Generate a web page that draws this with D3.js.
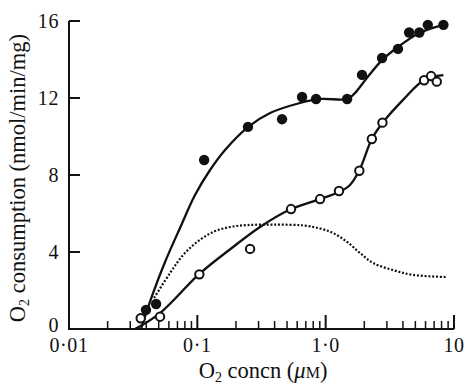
<!DOCTYPE html>
<html>
<head>
<meta charset="utf-8">
<script src="https://cdn.jsdelivr.net/npm/d3@7"></script>
<style>
  body { margin: 0; background: #fff; }
  text { font-family: "Liberation Serif", "DejaVu Serif", serif; fill: #111; }
</style>
</head>
<body>
<div id="grafico"></div>
<script>
// puntos medidos (llenos y vacios)
const llenosX = [0.0398, 0.0477, 0.113, 0.248, 0.457, 0.655, 0.842, 1.47, 1.92, 2.75, 3.66, 4.47, 5.37, 6.25, 8.27];
const llenosY = [0.99, 1.30, 8.78, 10.5, 10.9, 12.05, 11.95, 11.95, 13.2, 14.08, 14.55, 15.4, 15.4, 15.8, 15.8];

const vaciosX = [0.0362, 0.0512, 0.1037, 0.2576, 0.537, 0.904, 1.27, 1.83, 2.29, 2.77, 5.85, 6.63, 7.34];
const vaciosY = [0.56, 0.64, 2.84, 4.16, 6.23, 6.75, 7.17, 8.22, 9.87, 10.72, 12.92, 13.14, 12.85];

// curvas ajustadas
const curvaLlenaX = [0.0364, 0.0443, 0.056, 0.0733, 0.0959, 0.1256, 0.1644, 0.248, 0.369, 0.631, 0.904, 1.47, 1.665, 2.065, 2.75, 3.66, 5.37, 8.27];
const curvaLlenaY = [0, 1.71, 3.48, 5.25, 6.96, 8.26, 9.3, 10.49, 11.22, 11.74, 11.95, 11.95, 12.21, 12.99, 13.97, 14.65, 15.38, 15.8];

const curvaVaciaX = [0.0327, 0.0512, 0.1037, 0.19, 0.308, 0.537, 0.904, 1.27, 1.52, 1.82, 2.29, 2.77, 4.01, 5.85, 8.27];
const curvaVaciaY = [0, 0.83, 2.86, 4.26, 5.3, 6.23, 6.75, 7.12, 7.43, 8.21, 9.87, 10.7, 11.9, 12.94, 13.19];

const puntosX = [0.046, 0.0613, 0.0774, 0.0995, 0.1326, 0.18, 0.248, 0.4, 0.667, 0.904, 1.14, 1.47, 1.85, 2.34, 3.35, 4.8, 8.84];
const puntosY = [1.61, 2.91, 3.84, 4.52, 5.04, 5.3, 5.4, 5.42, 5.38, 5.22, 4.99, 4.52, 3.95, 3.43, 3.06, 2.81, 2.7];

const ticksY = [0, 4, 8, 12, 16];
const ticksX = [0.01, 0.1, 1, 10];
const etiquetasX = ["0·01", "0·1", "1·0", "10"];

const width = 466;
const height = 384;

const x = d3.scaleLog().domain([0.01, 10]).range([69, 454]);
const y = d3.scaleLinear().domain([0, 16]).range([329, 21]);

const svg = d3
  .select("#grafico")
  .append("svg")
  .attr("width", width)
  .attr("height", height);

// ejes
svg
  .append("path")
  .attr("d", `M${x(0.01)},${y(16)}V${y(0)}H${x(10)}`)
  .attr("fill", "none")
  .attr("stroke", "#111")
  .attr("stroke-width", 2);

svg
  .selectAll(".ty")
  .data(ticksY)
  .join("line")
  .attr("x1", x(0.01))
  .attr("x2", x(0.01) + 11)
  .attr("y1", (d) => y(d))
  .attr("y2", (d) => y(d))
  .attr("stroke", "#111")
  .attr("stroke-width", 2);

const menores = [];
[0.01, 0.1, 1].forEach((dec) => {
  for (let k = 2; k <= 9; k++) menores.push(dec * k);
});

svg
  .selectAll(".tm")
  .data(menores)
  .join("line")
  .attr("x1", (d) => x(d))
  .attr("x2", (d) => x(d))
  .attr("y1", y(0))
  .attr("y2", y(0) - 8)
  .attr("stroke", "#111")
  .attr("stroke-width", 1.5);

svg
  .selectAll(".tM")
  .data(ticksX.slice(1))
  .join("line")
  .attr("x1", (d) => x(d))
  .attr("x2", (d) => x(d))
  .attr("y1", y(0))
  .attr("y2", y(0) - 14)
  .attr("stroke", "#111")
  .attr("stroke-width", 2);

svg
  .selectAll(".ly")
  .data(ticksY)
  .join("text")
  .attr("x", 59)
  .attr("y", (d) => y(d) + (d === 0 ? 3 : 7))
  .attr("text-anchor", "end")
  .style("font-size", "20px")
  .style("letter-spacing", "0.6px")
  .text((d) => d);

svg
  .selectAll(".lx")
  .data(ticksX)
  .join("text")
  .attr("x", (d) => x(d))
  .attr("y", 352)
  .attr("text-anchor", "middle")
  .style("font-size", "20px")
  .style("letter-spacing", "0.6px")
  .text((d, i) => etiquetasX[i]);

// titulos
const tx = svg
  .append("text")
  .attr("x", 263)
  .attr("y", 378)
  .attr("text-anchor", "middle")
  .style("font-size", "22.5px");
tx.append("tspan").text("O");
tx.append("tspan").attr("dy", 4).style("font-size", "14px").text("2");
tx.append("tspan").attr("dy", -4).text(" concn (");
tx.append("tspan").style("font-style", "italic").text("μ");
tx.append("tspan").style("font-size", "16px").text("M");
tx.append("tspan").text(")");

const ty = svg
  .append("text")
  .attr("transform", "translate(25,178) rotate(-90)")
  .attr("text-anchor", "middle")
  .style("font-size", "22.5px");
ty.append("tspan").text("O");
ty.append("tspan").attr("dy", 4).style("font-size", "14px").text("2");
ty.append("tspan").attr("dy", -4).text(" consumption (nmol/min/mg)");

// curvas
const linea = d3
  .line()
  .x((d) => x(d[0]))
  .y((d) => y(d[1]))
  .curve(d3.curveCatmullRom.alpha(0.5));

svg
  .append("path")
  .attr("d", linea(d3.zip(curvaLlenaX, curvaLlenaY)))
  .attr("fill", "none")
  .attr("stroke", "#111")
  .attr("stroke-width", 2.3);

svg
  .append("path")
  .attr("d", linea(d3.zip(curvaVaciaX, curvaVaciaY)))
  .attr("fill", "none")
  .attr("stroke", "#111")
  .attr("stroke-width", 2.3);

svg
  .append("path")
  .attr("d", linea(d3.zip(puntosX, puntosY)))
  .attr("fill", "none")
  .attr("stroke", "#111")
  .attr("stroke-width", 2.2)
  .attr("stroke-dasharray", "2,1.8");

// puntos
svg
  .selectAll(".lleno")
  .data(d3.zip(llenosX, llenosY))
  .join("circle")
  .attr("cx", (d) => x(d[0]))
  .attr("cy", (d) => y(d[1]))
  .attr("r", 5.2)
  .attr("fill", "#111");

svg
  .selectAll(".vacio")
  .data(d3.zip(vaciosX, vaciosY))
  .join("circle")
  .attr("cx", (d) => x(d[0]))
  .attr("cy", (d) => y(d[1]))
  .attr("r", 4.2)
  .attr("fill", "#fff")
  .attr("stroke", "#111")
  .attr("stroke-width", 2);
</script>
</body>
</html>
